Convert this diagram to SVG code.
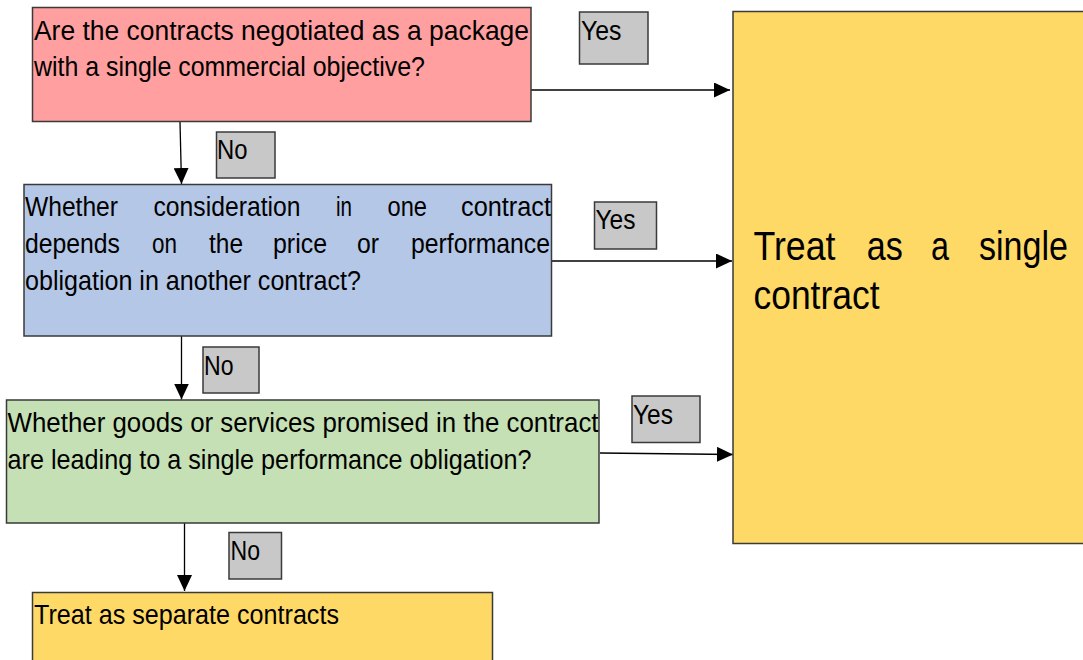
<svg xmlns="http://www.w3.org/2000/svg" width="1083" height="660" viewBox="0 0 1083 660">
<style>
.box{stroke:#3a3a3a;stroke-width:1.5}
.lbl{fill:#c8c8c8;stroke:#3a3a3a;stroke-width:1.5}
.t{font-family:"Liberation Sans Narrow","Liberation Sans",Arial,sans-serif;font-size:27.5px;fill:#000}
.big{font-family:"Liberation Sans Narrow","Liberation Sans",Arial,sans-serif;font-size:40px;fill:#000}
.c{stroke:#000;stroke-width:1.3;fill:none}
</style>
<defs>
<marker id="ah" markerUnits="userSpaceOnUse" markerWidth="16" markerHeight="15" refX="16" refY="7.5" orient="auto" viewBox="0 0 16 15">
<path d="M0,0 L16,7.5 L0,15 z" fill="#000"/>
</marker>
</defs>
<rect width="1083" height="660" fill="#fff"/>
<g id="connectors">
<line class="c" x1="531" y1="90" x2="730" y2="90" marker-end="url(#ah)"/>
<line class="c" x1="552" y1="261" x2="732" y2="261" marker-end="url(#ah)"/>
<line class="c" x1="600" y1="453" x2="733" y2="454.5" marker-end="url(#ah)"/>
<line class="c" x1="180" y1="122" x2="181.5" y2="184" marker-end="url(#ah)"/>
<line class="c" x1="181.5" y1="336" x2="181.5" y2="399.5" marker-end="url(#ah)"/>
<line class="c" x1="184.5" y1="523" x2="184.5" y2="591" marker-end="url(#ah)"/>
</g>
<g id="q1">
<rect class="box" x="32.5" y="7.5" width="498.5" height="114" fill="#ff9f9f"/>
<text class="t" x="34" y="40" textLength="495" lengthAdjust="spacingAndGlyphs">Are the contracts negotiated as a package</text>
<text class="t" x="34" y="76" textLength="391" lengthAdjust="spacingAndGlyphs">with a single commercial objective?</text>
</g>
<g id="q2">
<rect class="box" x="24" y="184.5" width="527.5" height="151.5" fill="#b4c7e7"/>
<text class="t" y="216"><tspan x="25" textLength="93" lengthAdjust="spacingAndGlyphs">Whether</tspan> <tspan x="153.5" textLength="147" lengthAdjust="spacingAndGlyphs">consideration</tspan> <tspan x="336" textLength="16" lengthAdjust="spacingAndGlyphs">in</tspan> <tspan x="387.5" textLength="39.5" lengthAdjust="spacingAndGlyphs">one</tspan> <tspan x="461" textLength="90" lengthAdjust="spacingAndGlyphs">contract</tspan></text>
<text class="t" y="253"><tspan x="25" textLength="95" lengthAdjust="spacingAndGlyphs">depends</tspan> <tspan x="152" textLength="25" lengthAdjust="spacingAndGlyphs">on</tspan> <tspan x="209" textLength="34" lengthAdjust="spacingAndGlyphs">the</tspan> <tspan x="273" textLength="54" lengthAdjust="spacingAndGlyphs">price</tspan> <tspan x="357" textLength="22" lengthAdjust="spacingAndGlyphs">or</tspan> <tspan x="411" textLength="139" lengthAdjust="spacingAndGlyphs">performance</tspan></text>
<text class="t" x="25" y="290" textLength="336" lengthAdjust="spacingAndGlyphs">obligation in another contract?</text>
</g>
<g id="q3">
<rect class="box" x="6.5" y="400" width="592.5" height="123" fill="#c5e0b4"/>
<text class="t" x="7.5" y="432" textLength="591" lengthAdjust="spacingAndGlyphs">Whether goods or services promised in the contract</text>
<text class="t" x="7.5" y="469" textLength="524" lengthAdjust="spacingAndGlyphs">are leading to a single performance obligation?</text>
</g>
<g id="single">
<rect class="box" x="733" y="11.5" width="360" height="532" fill="#ffd966"/>
<text class="big" y="260"><tspan x="753.5" textLength="82" lengthAdjust="spacingAndGlyphs">Treat</tspan> <tspan x="866.7" textLength="36" lengthAdjust="spacingAndGlyphs">as</tspan> <tspan x="931" textLength="18" lengthAdjust="spacingAndGlyphs">a</tspan> <tspan x="979" textLength="89" lengthAdjust="spacingAndGlyphs">single</tspan></text>
<text class="big" x="753.5" y="309" textLength="126" lengthAdjust="spacingAndGlyphs">contract</text>
</g>
<g id="separate">
<rect class="box" x="32.5" y="592.5" width="460" height="80" fill="#ffd966"/>
<text class="t" x="34" y="624" textLength="305" lengthAdjust="spacingAndGlyphs">Treat as separate contracts</text>
</g>
<g id="yes1">
<rect class="lbl" x="579.5" y="12" width="68.5" height="52"/>
<text class="t" x="581" y="40" textLength="40.5" lengthAdjust="spacingAndGlyphs">Yes</text>
</g>
<g id="yes2">
<rect class="lbl" x="594.5" y="202" width="62" height="47"/>
<text class="t" x="595.5" y="229" textLength="40" lengthAdjust="spacingAndGlyphs">Yes</text>
</g>
<g id="yes3">
<rect class="lbl" x="632" y="396" width="68" height="46.5"/>
<text class="t" x="633" y="424" textLength="40" lengthAdjust="spacingAndGlyphs">Yes</text>
</g>
<g id="no1">
<rect class="lbl" x="216.5" y="132" width="58.5" height="46"/>
<text class="t" x="217" y="159" textLength="30.5" lengthAdjust="spacingAndGlyphs">No</text>
</g>
<g id="no2">
<rect class="lbl" x="203" y="347" width="56" height="46"/>
<text class="t" x="204" y="375" textLength="29.5" lengthAdjust="spacingAndGlyphs">No</text>
</g>
<g id="no3">
<rect class="lbl" x="229" y="532.5" width="52.5" height="46.5"/>
<text class="t" x="230.5" y="560" textLength="29.5" lengthAdjust="spacingAndGlyphs">No</text>
</g>
</svg>
